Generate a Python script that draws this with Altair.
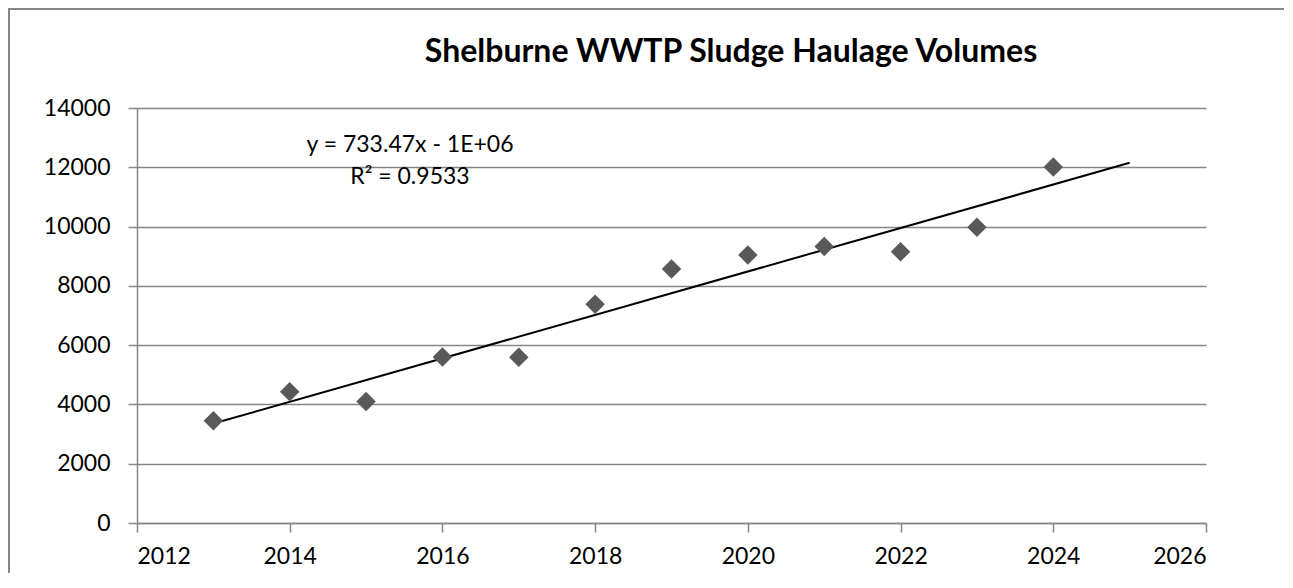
import altair as alt
import pandas as pd

# ---- data ----
years = [2013, 2014, 2015, 2016, 2017, 2018, 2019, 2020, 2021, 2022, 2023, 2024]
volumes = [3450, 4430, 4100, 5600, 5590, 7380, 8570, 9040, 9330, 9150, 9980, 12010]
x_ticks = [2012, 2014, 2016, 2018, 2020, 2022, 2024, 2026]
y_ticks = [0, 2000, 4000, 6000, 8000, 10000, 12000, 14000]
title_text = "Shelburne WWTP Sludge Haulage Volumes"
eq_text = "y = 733.47x - 1E+06"
r2_text = "R² = 0.9533"

df = pd.DataFrame({"year": years, "volume": volumes})

W, H = 1069, 415
FONT = "Lato"
GRAY = "#868686"

x_enc = alt.X("year:Q",
              scale=alt.Scale(domain=[2012, 2026], nice=False, zero=False),
              axis=alt.Axis(values=x_ticks, format="d", title=None, grid=False,
                            domainColor=GRAY, domainWidth=1.5, tickColor=GRAY,
                            tickWidth=1.5, tickSize=9, labelFontSize=23,
                            labelFont=FONT, labelColor="#000000", labelPadding=13))
y_enc = alt.Y("volume:Q",
              scale=alt.Scale(domain=[0, 14000], nice=False),
              axis=alt.Axis(values=y_ticks, format="d", title=None, grid=True,
                            gridColor=GRAY, gridWidth=1.5,
                            domainColor=GRAY, domainWidth=1.5, tickColor=GRAY,
                            tickWidth=1.5, tickSize=9, labelFontSize=23,
                            labelFont=FONT, labelColor="#000000", labelPadding=18))

base = alt.Chart(df)

points = base.mark_point(shape="diamond", filled=True, size=380,
                         color="#595959", opacity=1).encode(x=x_enc, y=y_enc)

trend = base.transform_regression("year", "volume", extent=[2013, 2025]).mark_line(
    color="#000000", strokeWidth=2).encode(x="year:Q", y="volume:Q")

one = alt.Data(values=[{"a": 1}])

title = alt.Chart(one).mark_text(text=title_text, font=FONT, fontSize=32,
                                 fontWeight="bold", color="#000000",
                                 align="center", baseline="middle").encode(
    x=alt.value(594), y=alt.value(-56))

eq = alt.Chart(one).mark_text(text=eq_text, font=FONT, fontSize=23,
                              color="#000000", align="center",
                              baseline="alphabetic").encode(
    x=alt.value(273), y=alt.value(44))

r2 = alt.Chart(one).mark_text(text=r2_text, font=FONT, fontSize=23,
                              color="#000000", align="center",
                              baseline="alphabetic").encode(
    x=alt.value(273), y=alt.value(76))

border = alt.Chart(one).mark_rect(fillOpacity=0, stroke=GRAY, strokeWidth=2).encode(
    x=alt.value(-128), x2=alt.value(W + 300),
    y=alt.value(-99), y2=alt.value(H + 300))

chart = alt.layer(border, trend, points, title, eq, r2).properties(
    width=W, height=H,
    autosize=alt.AutoSizeParams(type="none"),
    padding={"left": 129, "top": 100, "right": 78, "bottom": 50},
    background="#ffffff",
).configure_view(strokeWidth=0)

chart.save("out.html", embed_options={"renderer": "svg", "actions": False})
